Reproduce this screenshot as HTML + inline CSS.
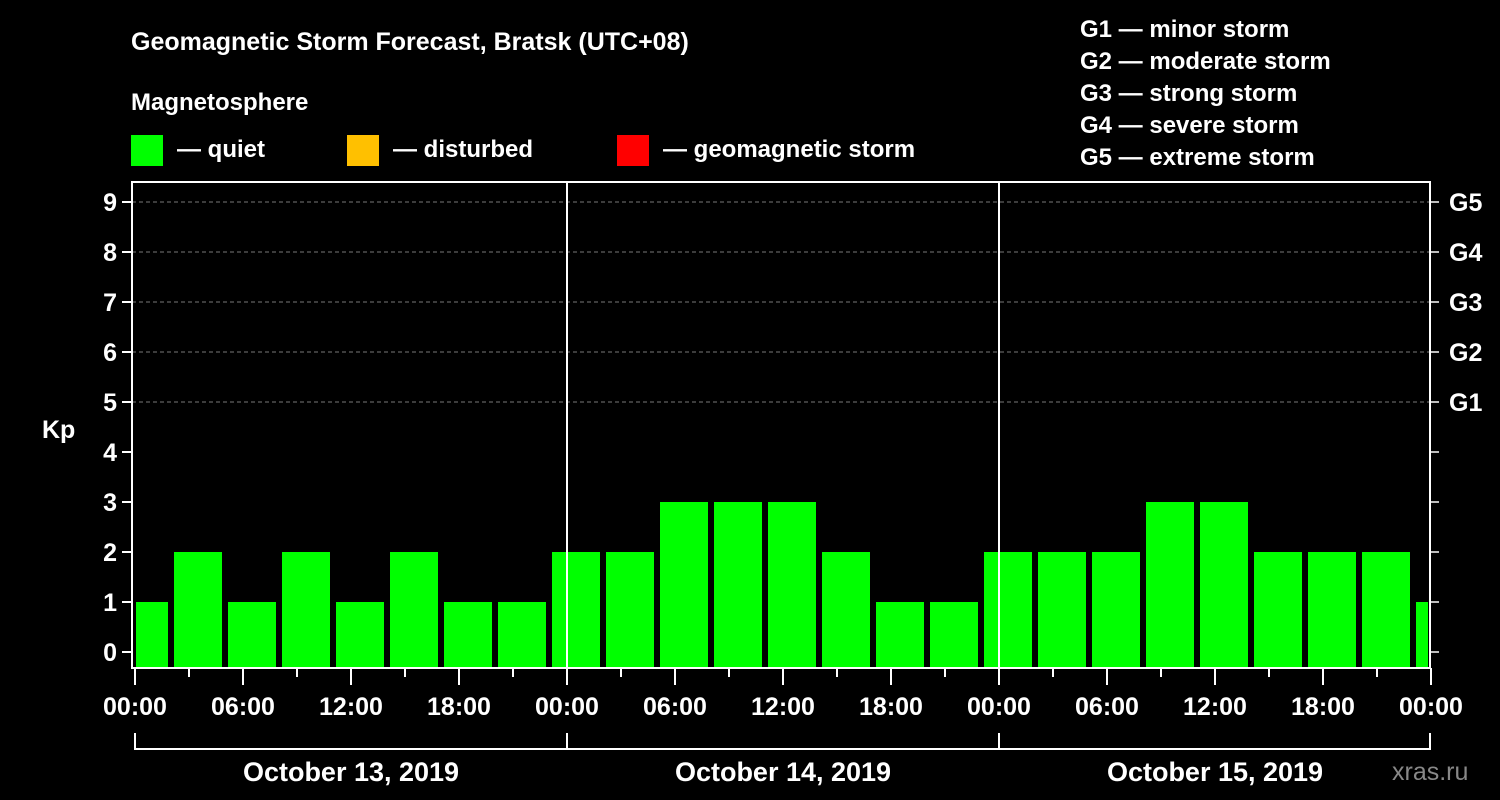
<!DOCTYPE html>
<html><head><meta charset="utf-8"><style>
body{margin:0;background:#000;}
svg{display:block;font-family:"Liberation Sans",Arial,sans-serif;font-weight:bold;}
</style></head><body>
<svg id="c" width="1500" height="800" viewBox="0 0 1500 800">
<rect width="1500" height="800" fill="#000"/>
<text x="131" y="50" fill="#fff" font-size="25">Geomagnetic Storm Forecast, Bratsk (UTC+08)</text>
<text x="131" y="110" fill="#fff" font-size="24">Magnetosphere</text>
<g><rect x="131" y="135" width="32" height="31" fill="#00ff00"/><text x="177" y="157" fill="#fff" font-size="24">— quiet</text></g>
<g><rect x="347" y="135" width="32" height="31" fill="#ffc000"/><text x="393" y="157" fill="#fff" font-size="24">— disturbed</text></g>
<g><rect x="617" y="135" width="32" height="31" fill="#ff0000"/><text x="663" y="157" fill="#fff" font-size="24">— geomagnetic storm</text></g>
<g fill="#fff" font-size="24">
<text x="1080" y="37">G1 — minor storm</text><text x="1080" y="69">G2 — moderate storm</text><text x="1080" y="101">G3 — strong storm</text><text x="1080" y="133">G4 — severe storm</text><text x="1080" y="165">G5 — extreme storm</text></g>
<text x="42" y="438" fill="#fff" font-size="25">Kp</text>
<text x="1392" y="780" fill="#888" font-size="25" font-weight="normal">xras.ru</text>
<g id="plot"></g>
</svg>
<script>
const kpValues=[1,2,1,2,1,2,1,1,2,2,3,3,3,2,1,1,2,2,2,3,3,2,2,2,1];
const barStartHours=[-1,2,5,8,11,14,17,20,23,26,29,32,35,38,41,44,47,50,53,56,59,62,65,68,71];
const yTicks=[0,1,2,3,4,5,6,7,8,9];
const gLabels=["G1","G2","G3","G4","G5"];
const dayLabels=["October 13, 2019","October 14, 2019","October 15, 2019"];
const xTickLabels=["00:00","06:00","12:00","18:00"];
const NS="http://www.w3.org/2000/svg";
const L=132,R=1430,T=182,B=668,X0=135;
const xs=h=>X0+h*18, ys=v=>652-v*50;
const p=document.getElementById('plot');
function mk(t,a,par){const e=document.createElementNS(NS,t);for(const k in a)e.setAttribute(k,a[k]);(par||p).appendChild(e);return e;}
const clip=mk('clipPath',{id:'cl'});mk('rect',{x:L+4,y:T,width:R-L-6,height:B-T},clip);
const bars=mk('g',{'clip-path':'url(#cl)'});


kpValues.forEach((v,i)=>{const x=xs(barStartHours[i])+3;const r=mk('rect',{x:x,y:ys(v),width:48,height:B-1-ys(v),fill:'#00ff00'},bars);

});
yTicks.forEach(v=>{const y=ys(v);
mk('line',{x1:L-10,x2:L,y1:y,y2:y,stroke:'#fff','stroke-width':2});
mk('line',{x1:R,x2:R+9,y1:y,y2:y,stroke:'#fff','stroke-width':1.5});
const t=mk('text',{x:L-15,y:y+9,fill:'#fff','font-size':25,'text-anchor':'end'});t.textContent=v;


if(v>=5){mk('line',{x1:L,x2:R,y1:y,y2:y,stroke:'#777','stroke-width':1,'stroke-dasharray':'4,3'});
const g=mk('text',{x:R+19,y:y+9,fill:'#fff','font-size':25});g.textContent=gLabels[v-5];

}});
for(let d=1;d<3;d++)mk('line',{x1:xs(d*24),x2:xs(d*24),y1:T,y2:B,stroke:'#fff','stroke-width':2});
mk('rect',{x:L,y:T,width:R-L,height:B-T,fill:'none',stroke:'#fff','stroke-width':2});
for(let h=0;h<=72;h+=3){const x=xs(h);const maj=h%6==0;
mk('line',{x1:x,x2:x,y1:B,y2:B+(maj?17:9),stroke:'#fff','stroke-width':2});
if(maj){const t=mk('text',{x:x,y:715,fill:'#fff','font-size':25,'text-anchor':'middle'});t.textContent=h==72?"00:00":xTickLabels[(h%24)/6];

}}
mk('line',{x1:xs(0),x2:R,y1:749,y2:749,stroke:'#fff','stroke-width':2});
for(let d=0;d<=3;d++){const x=d==3?R:xs(d*24);mk('line',{x1:x,x2:x,y1:733,y2:750,stroke:'#fff','stroke-width':2});}
dayLabels.forEach((s,d)=>{const t=mk('text',{x:xs(d*24+12),y:781,fill:'#fff','font-size':27,'text-anchor':'middle'});t.textContent=s;

});
</script>
</body></html>
